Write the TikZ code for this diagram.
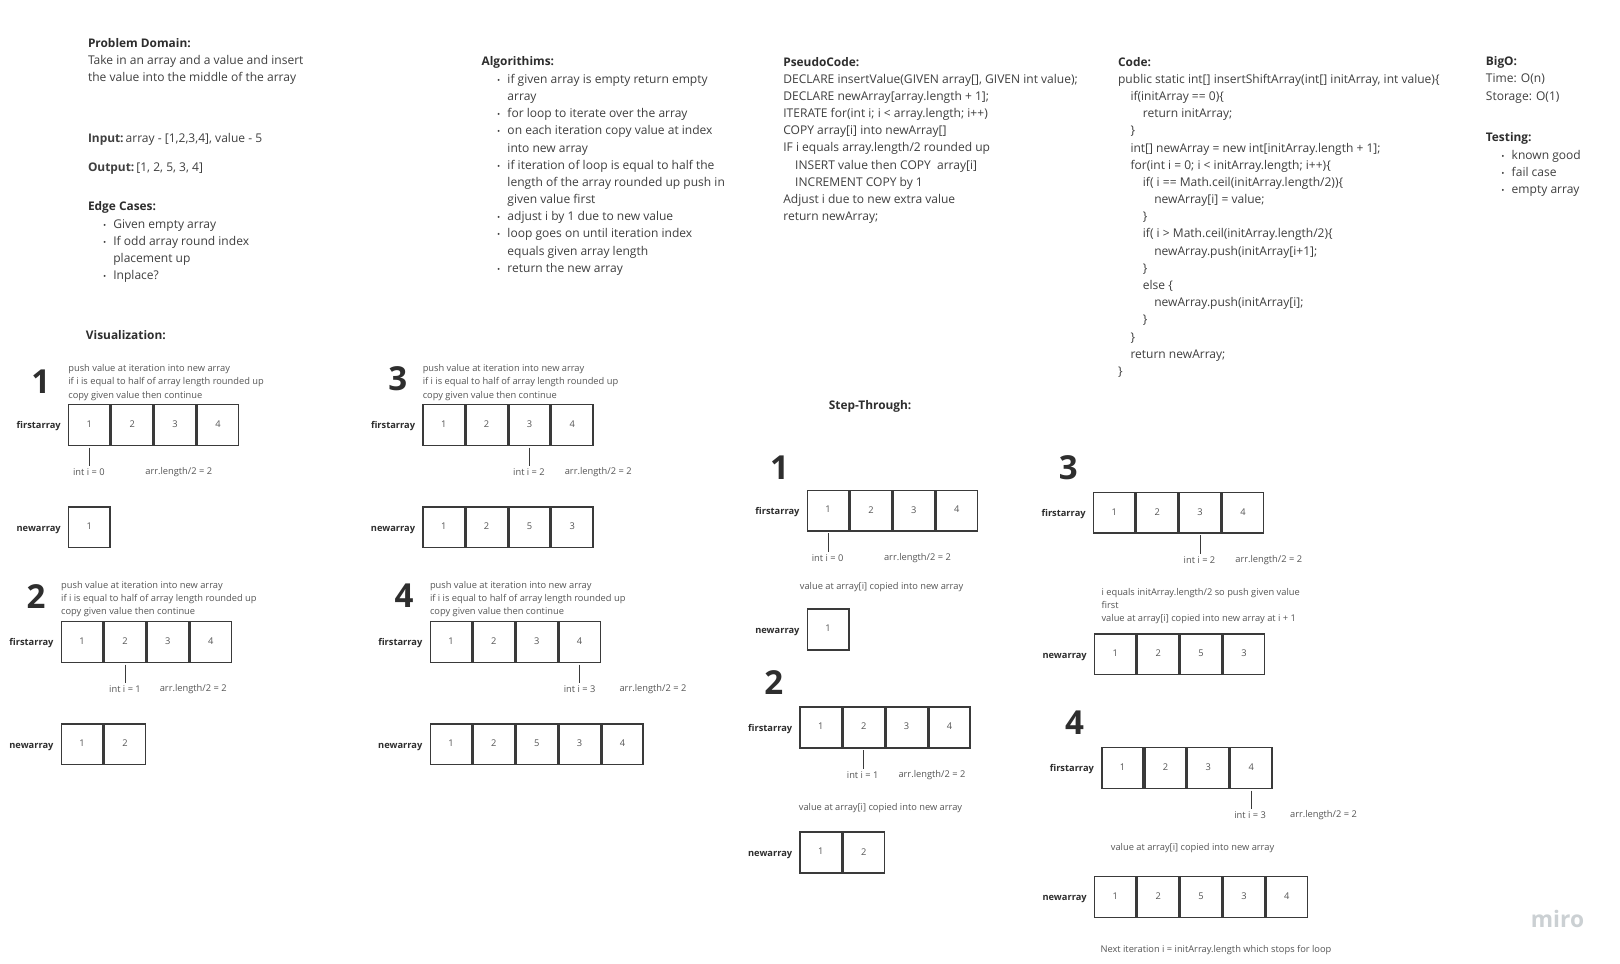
\documentclass[tikz,border=0pt]{standalone}
\usepackage{fontspec}
\setmainfont{Open Sans}
\definecolor{body}{HTML}{3F3F3F}
\definecolor{small}{HTML}{555555}
\definecolor{head}{HTML}{2E2E2E}
\definecolor{edge}{HTML}{3A3A3A}
\definecolor{wm}{HTML}{CBD0D3}
\newcommand\bl{\hspace*{15pt}\makebox[10pt][l]{\scalebox{.7}{•}}}
\newcommand\ct{\hspace*{25pt}}
\newcommand\nodepth[1]{\raisebox{0pt}[\height][0pt]{#1}}
\tikzset{
  x=1pt,y=-1pt,
  txt/.style={anchor=north west,inner sep=0pt,align=left,text=body,font=\fontsize{11.65}{16.63}\selectfont},
  htxt/.style={anchor=west,inner sep=0pt,text=head,font=\fontsize{11.5}{16.55}\selectfont\bfseries},
  note/.style={anchor=north west,inner sep=0pt,align=left,text=small,font=\fontsize{9}{12.6}\selectfont},
  lbl/.style={anchor=center,inner sep=0pt,text=small,font=\fontsize{9}{12}\selectfont},
  arrlab/.style={anchor=base east,inner sep=0pt,text=head,font=\fontsize{9}{12}\selectfont\bfseries},
  cell/.style={rectangle,draw=edge,line width=1.5pt,fill=white,minimum width=40pt,minimum height=39.5pt,inner sep=0pt,text=small,font=\fontsize{9}{12}\selectfont},
  bignum/.style={anchor=center,inner sep=0pt,text=head,font=\fontsize{32}{36}\selectfont\bfseries},
  ptr/.style={draw=edge,line width=.7pt}
}
\newcommand\arr[5]{%
  \node[arrlab] (#1-lab) at ({#2-7},{#3+24}) {#4};
  \foreach \v [count=\i] in {#5} {\node[cell] (#1-\i) at ({#2+20.5+41.5*(\i-1)},{#3+20.3}) {\raisebox{2pt}{\v}};}
}
\newcommand\notes[3]{\node[note] (#1) at (#2,#3) {push value at iteration into new array\\if i is equal to half of array length rounded up\\\nodepth{copy given value then continue}};}
\newcommand\ptrline[2]{\draw[ptr] ([yshift=-1.5pt]#1.south) -- ([yshift=2pt]#1.south |- #2.north);}
\begin{document}
\begin{tikzpicture}
\useasboundingbox (0,0) rectangle (1568,933);
\fill[white] (0,0) rectangle (1568,933);
% headers and text
\node[htxt] (pd) at (85,42) {Problem Domain:};
\node[txt] (pdt) at (85,53) {Take in an array and a value and insert\\the value into the middle of the array};
\node[txt] (inp) at (85,128.5) {{\fontsize{11.5}{16.55}\selectfont\bfseries Input:}\hspace{2pt}array - [1,2,3,4], value - 5};
\node[txt] (out) at (85,157.5) {{\fontsize{11.5}{16.55}\selectfont\bfseries Output:}\hspace{2pt}[1, 2, 5, 3, 4]};
\node[htxt] (ec) at (85,201) {Edge Cases:};
\node[txt] (ect) at (84.5,212) {\bl Given empty array\\\bl If odd array round index\\\ct placement up\\\bl Inplace?};
\node[htxt] (vis) at (83,324.5) {Visualization:};
\node[htxt] (alg) at (466,60.5) {Algorithims:};
\node[txt] (algt) at (466,71.5) {\bl if given array is empty return empty\\\ct array\\\bl for loop to iterate over the array\\\bl on each iteration copy value at index\\\ct into new array\\\bl if iteration of loop is equal to half the\\\ct length of the array rounded up push in\\\ct given value first\\\bl adjust i by 1 due to new value\\\bl loop goes on until iteration index\\\ct equals given array length\\\bl return the new array};
\node[htxt] (psh) at (758,60.5) {PseudoCode:};
\node[txt] (pst) at (758,71.5) {DECLARE insertValue(GIVEN array[], GIVEN int value);\\DECLARE newArray[array.length + 1];\\ITERATE for(int i; i < array.length; i++)\\COPY array[i] into newArray[]\\IF i equals array.length/2 rounded up\\\hspace*{11.5pt}INSERT value then COPY\ \ array[i]\\\hspace*{11.5pt}INCREMENT COPY by 1\\Adjust i due to new extra value\\return newArray;};
\node[htxt] (cdh) at (1082,60.5) {Code:};
\node[txt] (cdt) at (1082,71.5) {public static int[] insertShiftArray(int[] initArray, int value)\{\\
\hspace*{12pt}if(initArray == 0)\{\\
\hspace*{24pt}return initArray;\\
\hspace*{12pt}\}\\
\hspace*{12pt}int[] newArray = new int[initArray.length + 1];\\
\hspace*{12pt}for(int i = 0; i < initArray.length; i++)\{\\
\hspace*{24pt}if( i == Math.ceil(initArray.length/2))\{\\
\hspace*{35pt}newArray[i] = value;\\
\hspace*{24pt}\}\\
\hspace*{24pt}if( i > Math.ceil(initArray.length/2)\{\\
\hspace*{35pt}newArray.push(initArray[i+1];\\
\hspace*{24pt}\}\\
\hspace*{24pt}else \{\\
\hspace*{35pt}newArray.push(initArray[i];\\
\hspace*{24pt}\}\\
\hspace*{12pt}\}\\
\hspace*{12pt}return newArray;\\
\}};
\node[htxt] (bo) at (1438,60.5) {BigO:};
\node[txt] (bot) at (1438,71.5) {Time: O(n)\\Storage: O(1)};
\node[htxt] (tst) at (1438,133.5) {Testing:};
\node[txt] (tstt) at (1438,145) {\bl known good\\\bl fail case\\\bl empty array};
\node[htxt] (st) at (802,393) {Step-Through:};
% visualization 1
\node[bignum] (v1n) at (39.5,369) {1};
\notes{v1t}{66}{353}
\arr{v1f}{66}{391}{firstarray}{1,2,3,4}
\node[lbl] (v1i) at (86,457) {int i = 0};
\node[lbl] (v1l) at (173,457) {arr.length/2 = 2};
\ptrline{v1f-1}{v1i}
\arr{v1a}{66}{490}{newarray}{1}
% visualization 3
\node[bignum] (v3n) at (385,367) {3};
\notes{v3t}{409}{353}
\arr{v3f}{409}{391}{firstarray}{1,2,3,4}
\node[lbl] (v3i) at (512,457) {int i = 2};
\node[lbl] (v3l) at (579,457) {arr.length/2 = 2};
\ptrline{v3f-3}{v3i}
\arr{v3a}{409}{490}{newarray}{1,2,5,3}
% visualization 2
\node[bignum] (v2n) at (35,577) {2};
\notes{v2t}{59}{563}
\arr{v2f}{59}{601}{firstarray}{1,2,3,4}
\node[lbl] (v2i) at (121,667) {int i = 1};
\node[lbl] (v2l) at (187,667) {arr.length/2 = 2};
\ptrline{v2f-2}{v2i}
\arr{v2a}{59}{700}{newarray}{1,2}
% visualization 4
\node[bignum] (v4n) at (391,577) {4};
\notes{v4t}{416}{563}
\arr{v4f}{416}{601}{firstarray}{1,2,3,4}
\node[lbl] (v4i) at (561,667) {int i = 3};
\node[lbl] (v4l) at (632,667) {arr.length/2 = 2};
\ptrline{v4f-4}{v4i}
\arr{v4a}{416}{700}{newarray}{1,2,5,3,4}
% step 1
\node[bignum] (s1n) at (754.5,452.5) {1};
\arr{s1f}{781}{474}{firstarray}{1,2,3,4}
\node[lbl] (s1i) at (801,540) {int i = 0};
\node[lbl] (s1l) at (888,540) {arr.length/2 = 2};
\ptrline{s1f-1}{s1i}
\node[note] (s1t) at (774,564) {value at array[i] copied into new array};
\arr{s1a}{781}{589}{newarray}{1}
% step 2
\node[bignum] (s2n) at (749,660.5) {2};
\arr{s2f}{774}{684}{firstarray}{1,2,3,4}
\node[lbl] (s2i) at (835,750) {int i = 1};
\node[lbl] (s2l) at (902,750) {arr.length/2 = 2};
\ptrline{s2f-2}{s2i}
\node[note] (s2t) at (773,777) {value at array[i] copied into new array};
\arr{s2a}{774}{805}{newarray}{1,2}
% step 3
\node[bignum] (s3n) at (1034,452.5) {3};
\arr{s3f}{1058}{476}{firstarray}{1,2,3,4}
\node[lbl] (s3i) at (1161,542) {int i = 2};
\node[lbl] (s3l) at (1228,542) {arr.length/2 = 2};
\ptrline{s3f-3}{s3i}
\node[note] (s3t) at (1066,569) {i equals initArray.length/2 so push given value\\first\\value at array[i] copied into new array at i + 1};
\arr{s3a}{1059}{613}{newarray}{1,2,5,3}
% step 4
\node[bignum] (s4n) at (1040,699.5) {4};
\arr{s4f}{1066}{723}{firstarray}{1,2,3,4}
\node[lbl] (s4i) at (1210,789) {int i = 3};
\node[lbl] (s4l) at (1281,789) {arr.length/2 = 2};
\ptrline{s4f-4}{s4i}
\node[note] (s4t) at (1075,816) {value at array[i] copied into new array};
\arr{s4a}{1059}{848}{newarray}{1,2,5,3,4}
\node[note] (s4e) at (1065,915) {Next iteration i = initArray.length which stops for loop};
% watermark
\node[anchor=center,inner sep=0pt,text=wm,font=\fontsize{22}{24}\selectfont\bfseries] (miro) at (1507.5,889) {miro};
\end{tikzpicture}
\end{document}
